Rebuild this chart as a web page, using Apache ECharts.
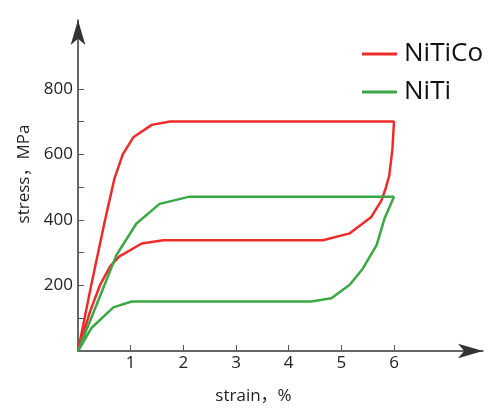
<!DOCTYPE html>
<html>
<head>
<meta charset="utf-8">
<script src="https://cdn.jsdelivr.net/npm/echarts@6/dist/echarts.min.js"></script>
<style>
  html, body { margin: 0; padding: 0; background: #fff; }
  #chart { width: 499px; height: 410px; }
</style>
</head>
<body>
<div id="chart"></div>
<script>
// loading branch then unloading branch, strain in %, stress in MPa
const niticoStrain = [0, 0.25, 0.5, 0.69, 0.85, 1.05, 1.4, 1.75, 6.0,
  5.97, 5.91, 5.84, 5.76, 5.57, 5.16, 4.65, 1.62, 1.21, 0.78, 0.61, 0.42, 0.23, 0]
const niticoStress = [0, 200, 390, 525, 600, 652, 690, 700, 700,
  616, 535, 495, 459, 409, 359, 338, 338, 328, 288, 258, 202, 121, 0]

const nitiStrain = [0, 0.16, 0.48, 0.73, 1.11, 1.55, 2.12, 6.0,
  5.82, 5.67, 5.41, 5.16, 4.81, 4.43, 1.02, 0.67, 0.26, 0]
const nitiStress = [0, 64, 192, 293, 389, 449, 471, 471,
  404, 323, 252, 202, 161, 151, 151, 133, 71, 0]

const xTicks = [1, 2, 3, 4, 5, 6]
const yTicks = [100, 200, 300, 400, 500, 600, 700, 800]
const yLabels = [200, 400, 600, 800]

const pairs = (xs, ys) => xs.map((x, i) => [x, ys[i]])

const font = '"Open Sans", "Noto Sans CJK SC", sans-serif'
const chart = echarts.init(document.getElementById('chart'))

const axisLine = {
  show: true,
  symbol: ['none', 'arrow'],
  symbolSize: [11, 25],
  lineStyle: {color: '#333', width: 1.5}
}

chart.setOption({
  animation: false,
  legend: {
    orient: 'vertical',
    left: 357,
    top: 36,
    itemGap: 12,
    itemWidth: 35,
    itemHeight: 3,
    icon: 'rect',
    textStyle: {fontSize: 26, color: '#111', fontFamily: font, padding: [0, 0, 0, 2]},
    data: ['NiTiCo', 'NiTi']
  },
  grid: {left: 78, right: 16, top: 20, bottom: 57},
  xAxis: {
    type: 'value',
    min: 0,
    max: 7.69,
    name: 'strain，%',
    nameLocation: 'middle',
    nameGap: 37,
    nameTextStyle: {fontSize: 17, color: '#222', fontFamily: font, padding: [0, 54, 0, 0]},
    axisLine: axisLine,
    axisTick: {show: true, inside: true, length: 6, customValues: xTicks, lineStyle: {color: '#555'}},
    axisLabel: {customValues: xTicks, fontSize: 17, color: '#222', fontFamily: font, margin: 4},
    splitLine: {show: false}
  },
  yAxis: {
    type: 'value',
    min: 0,
    max: 1010,
    name: 'stress，MPa',
    nameLocation: 'middle',
    nameRotate: 90,
    nameGap: 45,
    nameTextStyle: {fontSize: 17, color: '#222', fontFamily: font, padding: [0, 0, 0, 23]},
    axisLine: axisLine,
    axisTick: {show: true, inside: true, length: 6, customValues: yTicks, lineStyle: {color: '#555'}},
    axisLabel: {customValues: yLabels, fontSize: 17, color: '#222', fontFamily: font, margin: 5},
    splitLine: {show: false}
  },
  series: [
    {
      name: 'NiTiCo',
      type: 'line',
      showSymbol: false,
      color: '#ee2b2b',
      lineStyle: {width: 2.5, color: '#ee2b2b'},
      data: pairs(niticoStrain, niticoStress)
    },
    {
      name: 'NiTi',
      type: 'line',
      showSymbol: false,
      color: '#3ca845',
      lineStyle: {width: 2.5, color: '#3ca845'},
      data: pairs(nitiStrain, nitiStress)
    }
  ]
})
</script>
</body>
</html>
